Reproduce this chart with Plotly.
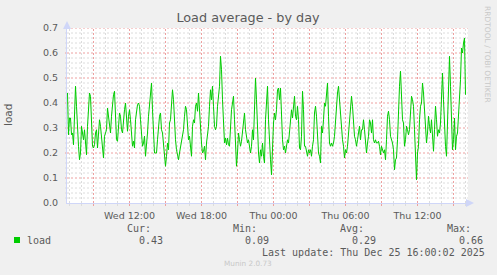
import plotly.graph_objects as go
import pandas as pd

# ---------------- data ----------------
load = [
    # Wed morning
    .44, .273, .34, .34, .273, .28, .233, .40, .467, .387, .28, .227, .173, .20, .307, .28, .253, .293,
    .24, .193, .307, .413, .44, .427, .333, .227, .22, .233, .28, .293, .22, .293, .333, .307, .267, .207,
    .18, .267, .28, .293, .38, .347, .307, .28, .347, .40, .433, .447, .373, .253, .247, .307, .36, .347,
    .293, .28, .347, .373, .40, .333, .287, .347, .373, .333, .28, .227, .247, .22, .333, .367, .393, .40,
    # Wed afternoon
    .387, .333, .267, .227, .24, .267, .187, .227, .28, .347, .40, .44, .48, .373, .293, .20, .20, .20,
    .253, .32, .347, .36, .293, .28, .227, .173, .147, .187, .24, .213, .32, .333, .40, .453, .413, .32,
    .253, .213, .187, .173, .20, .227, .253, .267, .293, .347, .387, .373, .32, .253, .267, .227, .187, .307,
    .333, .32, .387, .40, .367, .44, .373, .28, .24, .20, .207, .227, .173, .24, .28, .307, .387, .453,
    .413, .467, .387, .307, .293, .307, .387, .427,
    # Wed evening / night
    .467, .587, .533, .413, .333, .24, .26, .233, .26, .233, .227, .307, .373, .40, .427, .333, .20, .147,
    .20, .28, .253, .227, .247, .28, .32, .36, .293, .267, .24, .253, .227, .20, .227, .293, .253, .413,
    .50, .413, .293, .20, .16, .213, .187, .24, .187, .16, .333, .413, .467, .333, .227, .173, .113, .227,
    .32, .36, .333, .373, .453, .46, .413, .46, .333, .253, .213, .227, .20, .22, .253, .24, .293, .333,
    .373, .34, .387, .427, .347, .333, .387, .333,
    # Thu early morning
    .22, .213, .267, .447, .373, .227, .227, .20, .187, .213, .20, .213, .187, .227, .253, .36, .387, .347,
    .267, .20, .187, .16, .307, .28, .333, .40, .387, .44, .48, .347, .24, .227, .24, .227, .24, .267,
    .333, .387, .44, .467, .413, .347, .267, .253, .227, .18, .213, .20, .227, .28, .32, .36, .427, .387,
    .32, .267, .253, .227, .253, .293, .307, .253, .293, .293, .333, .293, .227, .20, .24, .267, .333, .32,
    .28, .333, .253, .24, .253, .24, .24, .247,
    # Thu day
    .227, .193, .227, .207, .20, .213, .173, .253, .347, .367, .333, .267, .253, .24, .213, .133, .173, .18,
    .253, .413, .467, .527, .40, .333, .32, .227, .253, .307, .293, .273, .293, .36, .427, .413, .387, .293,
    .213, .093, .20, .227, .333, .387, .40, .48, .44, .373, .293, .24, .28, .347, .307, .28, .333, .253,
    .207, .293, .387, .333, .267, .293, .28, .32, .427, .52, .413, .293, .227, .187, .333, .533, .587, .467,
    .267, .213, .253, .34, .213, .267, .28, .347, .42, .493, .62, .60, .64, .66, .433,
]
last_sample = "2025-12-25 16:00"
sample_step = "5min"

x_tick_times = ["2025-12-24 12:00", "2025-12-24 18:00", "2025-12-25 00:00",
                "2025-12-25 06:00", "2025-12-25 12:00"]
x_tick_labels = ["Wed 12:00", "Wed 18:00", "Thu 00:00", "Thu 06:00", "Thu 12:00"]
y_tick_vals = [0.0, 0.1, 0.2, 0.3, 0.4, 0.5, 0.6, 0.7]

series_name = "load"
stat_names = ["Cur:", "Min:", "Avg:", "Max:"]
stat_values = ["0.43", "0.09", "0.29", "0.66"]
last_update = "Last update: Thu Dec 25 16:00:02 2025"
title_text = "Load average - by day"
footer_text = "Munin 2.0.73"
side_text = "RRDTOOL / TOBI OETIKER"

# ---------------- layout helpers ----------------
W, H = 497, 275
L, R, T, B = 67, 468, 28, 203


def px(x):
    return (x - L) / (R - L)


def py(y):
    return (B - y) / (B - T)


GREEN = "#00CC00"
FONT_C = "#5a5a5a"
AXIS_C = "#CFD6F8"
MGRID = "#EDA0A0"
GRID = "#DCDCDC"
SANS = "DejaVu Sans"
MONO = "DejaVu Sans Mono"
DASH = "2px,2px"

times = pd.date_range(end=last_sample, periods=len(load), freq=sample_step)

fig = go.Figure()
fig.add_trace(go.Scatter(x=times, y=load, mode="lines",
                         line=dict(color=GREEN, width=1), hoverinfo="skip", showlegend=False))

fig.update_layout(
    width=W, height=H,
    margin=dict(l=L, r=W - R, t=T, b=H - B, pad=0),
    paper_bgcolor="#F0F0F0", plot_bgcolor="#FFFFFF",
    showlegend=False,
    title=dict(text=title_text, x=248 / W, y=1 - 18 / H, xanchor="center", yanchor="middle",
               font=dict(family=SANS, size=12.8, color=FONT_C)),
    font=dict(family=SANS, color=FONT_C),
)

fig.update_xaxes(
    type="date",
    range=["2025-12-24 06:47:30", "2025-12-25 16:12:30"],
    tickmode="array", tickvals=x_tick_times, ticktext=x_tick_labels,
    showgrid=False, ticks="", ticklabelstandoff=4,
    tickfont=dict(family=SANS, size=9.5, color=FONT_C),
    showline=True, linecolor=AXIS_C, linewidth=1,
    zeroline=False, fixedrange=True,
)

fig.update_yaxes(
    range=[0, 0.7],
    tickmode="array", tickvals=y_tick_vals, tickformat=".1f",
    showgrid=False, ticks="", ticklabelstandoff=6,
    tickfont=dict(family=SANS, size=9.5, color=FONT_C),
    showline=True, linecolor=AXIS_C, linewidth=1,
    zeroline=False, fixedrange=True,
)

# grid lines (hourly / 3-hourly vertical, 0.02 / 0.1 horizontal) + small tick marks
hours = pd.date_range("2025-12-24 07:00", "2025-12-25 16:00", freq="1h")
for h in hours:
    major = h.hour % 3 == 0
    c = MGRID if major else GRID
    fig.add_shape(type="line", xref="x", yref="paper", x0=h, x1=h, y0=0, y1=1,
                  line=dict(color=c, width=1, dash=DASH), layer="below")
    fig.add_shape(type="line", xref="x", yref="paper", x0=h, x1=h, y0=0, y1=py(B + 3),
                  line=dict(color=c, width=1), layer="below")
for i in range(1, 36):
    v = i * 0.02
    major = i % 5 == 0
    c = MGRID if major else GRID
    fig.add_shape(type="line", xref="paper", yref="y", x0=0, x1=1, y0=v, y1=v,
                  line=dict(color=c, width=1, dash=DASH), layer="below")
    fig.add_shape(type="line", xref="paper", yref="y", x0=px(L - 2), x1=0, y0=v, y1=v,
                  line=dict(color=c, width=1), layer="below")

ann = []
# axis arrows
ann.append(dict(xref="paper", yref="paper", x=px(L), y=py(21), ax=0, ay=8, text="",
                showarrow=True, arrowhead=2, arrowsize=1.6, arrowwidth=1, arrowcolor=AXIS_C))
ann.append(dict(xref="paper", yref="paper", x=px(474), y=py(B), ax=-8, ay=0, text="",
                showarrow=True, arrowhead=2, arrowsize=1.6, arrowwidth=1, arrowcolor=AXIS_C))


def text_at(x, y, s, size=10, family=MONO, color=FONT_C, anchor="left", angle=0):
    ann.append(dict(xref="paper", yref="paper", x=px(x), y=py(y), text=s, showarrow=False,
                    xanchor=anchor, yanchor="middle", textangle=angle, borderpad=0, borderwidth=0,
                    font=dict(family=family, size=size, color=color)))


# y axis title
text_at(8, 115, "load", size=10.5, family=SANS, anchor="center", angle=-90)
# side credit
text_at(488, 54, side_text, size=7.5, family=SANS, color="#C8C8C8", anchor="center", angle=90)
# legend
text_at(27, 240, series_name)
stat_x = [127, 233, 340, 447]
for sx, name, val in zip(stat_x, stat_names, stat_values):
    text_at(sx, 228, name)
    text_at(sx + 12, 240, val)
text_at(262, 252, last_update)
text_at(248, 263, footer_text, size=7.3, family=SANS, color="#C8C8C8", anchor="center")

fig.update_layout(annotations=ann)
fig.add_shape(type="rect", xref="paper", yref="paper", x0=px(14), x1=px(20), y0=py(243), y1=py(237),
              fillcolor=GREEN, line=dict(width=0))

fig.write_html("out.html")
